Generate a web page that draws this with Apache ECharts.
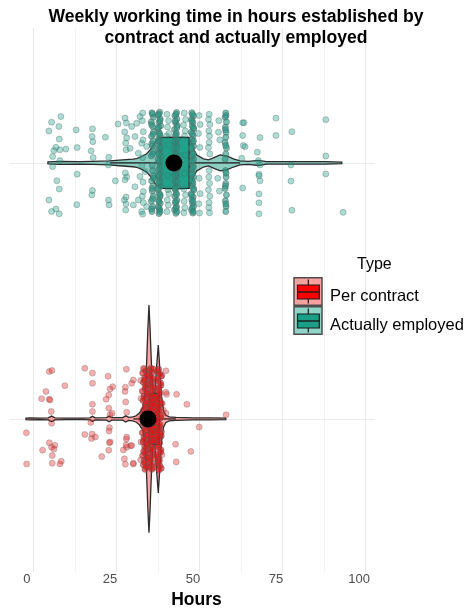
<!DOCTYPE html>
<html>
<head>
<meta charset="utf-8">
<script src="https://cdn.jsdelivr.net/npm/echarts@6/dist/echarts.min.js"></script>
<style>
html, body { margin: 0; padding: 0; background: #fff; }
#chart { width: 464px; height: 610px; }
</style>
</head>
<body>
<div id="chart"></div>
<script>
const groupNames = ['Per contract', 'Actually employed'];
const groupCenters = [1, 2];
const tickLabels = [0, 25, 50, 75, 100];
const groupMeans = [36.6, 44.4];
const panelHours = [-4.9, 104.9];

// [lower whisker, Q1, median, Q3, upper whisker]
const contractBox = [32.2, 36.9, 40, 40, 45];
const employedBox = [25.2, 40.2, 45, 49, 64.3];

// violin outline: [hours, half width]
const contractViolin = [[-0.1,0.003],[1,0.004],[4,0.003],[6.6,0.004],[7.6,0.011],[8.6,0.004],[12,0.003],[17,0.003],[19.1,0.004],[19.9,0.010],[20.7,0.004],[24.1,0.005],[24.9,0.011],[25.7,0.005],[29.0,0.005],[29.9,0.012],[30.8,0.006],[32.0,0.008],[33.0,0.012],[34.0,0.023],[35.0,0.043],[35.6,0.086],[36.0,0.156],[36.3,0.258],[36.55,0.348],[36.9,0.445],[37.25,0.348],[37.5,0.258],[37.9,0.137],[38.3,0.086],[38.7,0.109],[39.1,0.188],[39.7,0.289],[40.2,0.188],[40.7,0.086],[41.3,0.031],[42.0,0.014],[43.0,0.008],[45.0,0.006],[50.0,0.004],[55.0,0.004],[60.0,0.003]];
const employedViolin = [[6.5,0.004],[10,0.006],[16,0.005],[20,0.006],[25,0.008],[28,0.011],[30,0.013],[32.1,0.015],[33.2,0.017],[34.7,0.025],[36.2,0.036],[37.3,0.052],[38.2,0.069],[39.2,0.089],[40.2,0.097],[42,0.1],[45,0.1],[47.5,0.1],[49,0.097],[49.8,0.074],[50.5,0.048],[51.3,0.031],[53.3,0.016],[54.8,0.012],[56.3,0.02],[58.3,0.031],[60.3,0.027],[62.3,0.016],[64.3,0.008],[66.8,0.006],[69.8,0.010],[72.3,0.005],[79.8,0.005],[89.9,0.005],[94.9,0.003]];

// jittered points: [hours, vertical jitter]; *Stack arrays are the columns where many answers pile up
const contractPoints = [
  [6.9,0.185],[7.7,0.189],[17.6,0.198],[19.9,0.179],[24.6,0.167],[30.1,0.194],[11.6,0.130],[19.9,0.139],[26.0,0.126],[25.2,0.117],
  [29.8,0.124],[29.7,0.107],[32.2,0.152],[31.7,0.139],[5.9,0.107],[4.6,0.079],[7.1,0.074],[6.9,0.077],[24.8,0.093],[24.0,0.077],
  [19.9,0.057],[19.9,0.029],[24.8,0.042],[29.9,0.066],[30.2,0.026],[7.5,0.029],[7.6,-0.017],[19.4,-0.014],[25.2,0.016],[25.8,0.022],
  [0.0,-0.054],[17.6,-0.061],[19.8,-0.059],[20.8,-0.071],[19.6,-0.077],[25.0,-0.034],[24.9,-0.047],[30.1,-0.079],[30.2,-0.071],[6.9,-0.093],
  [8.6,-0.103],[7.6,-0.111],[4.9,-0.122],[8.3,-0.118],[25.0,-0.093],[25.2,-0.090],[24.8,-0.122],[29.2,-0.121],[30.2,-0.111],[31.4,-0.105],
  [30.0,-0.102],[7.8,-0.143],[22.7,-0.147],[0.1,-0.176],[7.8,-0.173],[10.5,-0.165],[10.1,-0.176],[29.5,-0.156],[29.8,-0.177],[32.2,-0.176],
  [42.0,0.188],[45.2,0.096],[42.0,0.104],[42.2,0.096],[48.3,0.057],[42.0,0.022],[60.1,0.016],[52.0,-0.032],[44.9,-0.099],[49.5,-0.127],
  [31.7,-0.104],[45.1,-0.168],[32.2,-0.173],[41.2,0.035],
  [34.4,0.15],[34.5,0.08],[34.3,0.0],[34.5,-0.09],[34.4,-0.16],[40.8,0.17],[40.9,0.06],[40.7,-0.05],[40.8,-0.14]
];
const contractStack = [
  [35.3,0.197],[35.0,0.179],[35.6,0.161],[35.2,0.143],[35.7,0.126],[34.9,0.108],[35.4,0.09],[35.1,0.072],[35.8,0.054],[35.3,0.036],
  [35.0,0.018],[35.5,0],[35.2,-0.018],[35.7,-0.036],[34.9,-0.054],[35.4,-0.072],[35.1,-0.09],[35.6,-0.108],[35.3,-0.126],[35.0,-0.143],
  [35.5,-0.161],[35.2,-0.179],[35.7,-0.197],
  [35.9,0.188],[36.2,0.17],[35.6,0.152],[36.0,0.134],[35.8,0.117],[36.3,0.099],[35.5,0.081],[36.1,0.063],[35.9,0.045],[35.7,0.027],
  [36.2,0.009],[35.6,-0.009],[36.0,-0.027],[35.8,-0.045],[36.3,-0.063],[35.5,-0.081],[36.1,-0.099],[35.9,-0.117],[35.7,-0.134],[36.2,-0.152],
  [35.6,-0.17],[36.0,-0.188],
  [36.9,0.19],[36.6,0.172],[37.2,0.154],[36.8,0.136],[37.3,0.118],[36.5,0.1],[37.0,0.082],[36.7,0.064],[37.1,0.046],[36.9,0.028],
  [36.6,0.01],[37.2,-0.008],[36.8,-0.026],[37.3,-0.044],[36.5,-0.062],[37.0,-0.08],[36.7,-0.098],[37.1,-0.116],[36.9,-0.134],[36.6,-0.152],
  [37.2,-0.17],[36.8,-0.188],
  [37.5,0.198],[37.8,0.181],[37.4,0.163],[37.7,0.145],[37.6,0.127],[37.9,0.109],[37.3,0.091],[37.6,0.073],[37.8,0.055],[37.4,0.037],
  [37.7,0.019],[37.5,0.001],[37.9,-0.017],[37.3,-0.035],[37.6,-0.053],[37.8,-0.071],[37.4,-0.089],[37.7,-0.107],[37.5,-0.125],[37.9,-0.143],
  [37.3,-0.161],[37.6,-0.179],[37.8,-0.197],
  [38.2,0.195],[37.9,0.16],[38.4,0.125],[38.0,0.09],[38.3,0.055],[38.1,0.02],[37.9,-0.015],[38.4,-0.05],[38.2,-0.085],[38.0,-0.12],
  [38.3,-0.155],[38.1,-0.19],
  [39.3,0.185],[40.6,0.167],[39.1,0.149],[40.5,0.131],[39.4,0.113],[40.0,0.095],[39.2,0.077],[40.6,0.059],[39.5,0.041],[39.3,0.023],
  [40.5,0.005],[39.0,-0.013],[40.1,-0.031],[39.4,-0.049],[40.6,-0.067],[39.2,-0.085],[39.5,-0.103],[40.5,-0.121],[39.1,-0.139],[40.0,-0.157],
  [39.3,-0.175],[40.6,-0.193],
  [39.8,0.194],[40.2,0.176],[39.6,0.158],[40.4,0.14],[39.9,0.122],[40.1,0.104],[39.7,0.086],[40.3,0.068],[39.8,0.05],[40.0,0.032],
  [40.4,0.014],[39.6,-0.004],[40.2,-0.022],[39.9,-0.04],[40.3,-0.058],[39.7,-0.076],[40.1,-0.094],[39.8,-0.112],[40.4,-0.13],[39.6,-0.148],
  [40.0,-0.166],[40.2,-0.184],[39.9,-0.2]
];
const employedPoints = [
  [7.6,0.159],[10.4,0.181],[6.8,0.125],[9.8,0.142],[15.0,0.129],[19.9,0.133],[23.8,0.100],[27.6,0.152],[9.9,0.093],[19.8,0.103],
  [20.0,0.083],[8.9,0.061],[10.1,0.051],[8.3,0.048],[11.9,0.054],[15.3,0.060],[19.5,0.047],[7.9,0.025],[10.1,0.009],[7.9,-0.014],
  [20.1,0.021],[24.8,0.022],[24.7,-0.008],[15.3,-0.044],[9.2,-0.070],[9.9,-0.102],[26.8,-0.070],[19.9,-0.108],[19.7,-0.125],[6.8,-0.145],
  [8.9,-0.180],[7.6,-0.190],[9.9,-0.199],[15.2,-0.163],[24.7,-0.145],[24.9,-0.164],[29.5,-0.145],[30.0,-0.160],
  [29.7,0.175],[30.1,0.156],[29.6,0.121],[30.2,0.098],[29.9,0.078],[30.0,0.051],[29.8,-0.039],[30.2,-0.055],[29.7,-0.066],[30.0,-0.133],[29.9,-0.184],
  [33.2,0.155],[34.2,0.181],[35.2,0.122],[32.7,0.103],[34.7,0.077],[36.2,0.064],[33.7,0.038],[35.7,-0.034],[34.2,-0.053],[32.7,-0.093],
  [35.2,-0.112],[33.7,-0.145],[36.2,-0.171],[34.7,-0.190],[32.2,-0.164],[31.2,0.057],[31.7,0.142],
  [35.0,0.195],[34.9,0.165],[35.1,0.09],[35.0,0.02],[34.8,-0.01],[35.1,-0.075],[34.9,-0.13],[35.0,-0.2],[35.2,-0.155],
  [42.3,0.19],[42.8,0.165],[42.5,0.14],[42.9,0.115],[42.2,0.105],[42.6,-0.105],[42.9,-0.12],[42.4,-0.145],[42.7,-0.165],[42.3,-0.19],[42.8,0.07],[42.5,-0.05],
  [47.5,0.195],[47.9,0.17],[47.3,0.148],[47.8,0.125],[47.6,0.105],[47.4,-0.102],[47.9,-0.125],[47.5,-0.15],[47.7,-0.175],[47.4,-0.195],[47.8,0.03],[47.6,-0.04],
  [52.0,0.185],[52.3,0.15],[51.8,0.115],[52.2,0.06],[52.0,-0.06],[52.3,-0.12],[51.9,-0.16],[52.1,-0.196],
  [55.0,0.19],[54.8,0.17],[55.2,0.15],[54.9,0.125],[55.1,0.105],[55.0,0.08],[54.8,0.06],[55.2,0.035],[55.0,-0.03],[54.9,-0.055],
  [55.1,-0.08],[54.8,-0.105],[55.2,-0.13],[55.0,-0.155],[54.9,-0.175],[55.1,-0.195],
  [57.8,0.12],[58.2,0.09],[57.6,-0.06],[58.1,-0.11],[57.9,0.165],
  [65.1,0.157],[65.5,0.157],[75.1,0.175],[90.1,0.169],[65.1,0.107],[70.3,0.099],[75.1,0.107],[79.9,0.122],[65.3,0.068],[65.8,0.063],
  [69.5,0.042],[90.1,0.027],[64.8,0.018],[69.8,0.009],[70.3,-0.008],[79.6,-0.008],[70.0,-0.044],[70.0,-0.050],[70.3,-0.070],[90.1,-0.043],
  [79.6,-0.071],[65.1,-0.098],[70.0,-0.121],[70.0,-0.156],[70.0,-0.199],[79.9,-0.185],[95.3,-0.193]
];
const employedStack = [
  [37.8,0.196],[38.2,0.178],[37.6,0.16],[38.0,0.142],[38.3,0.122],[37.7,0.104],[38.1,0.085],[37.9,0.066],[38.2,0.046],[37.6,0.027],
  [38.0,-0.03],[38.3,-0.05],[37.7,-0.07],[38.1,-0.09],[37.9,-0.11],[38.2,-0.13],[37.6,-0.15],[38.0,-0.17],[37.8,-0.19],
  [38.0,0.19],[37.7,0.15],[38.1,0.112],[37.8,0.075],[38.0,0.035],[37.9,-0.01],[38.2,-0.06],[37.8,-0.1],[38.0,-0.14],[37.7,-0.18],
  [40.1,0.198],[39.7,0.186],[40.3,0.172],[39.9,0.159],[40.4,0.145],[39.6,0.133],[40.0,0.118],[40.2,0.106],[39.8,0.093],[40.3,0.079],
  [39.7,0.067],[40.1,0.052],[39.9,0.04],[40.4,0.026],[39.6,0.014],[40.0,0.001],[40.2,-0.013],[39.8,-0.027],[40.3,-0.039],[39.7,-0.053],
  [40.1,-0.066],[39.9,-0.08],[40.4,-0.092],[39.6,-0.105],[40.0,-0.119],[40.2,-0.132],[39.8,-0.146],[40.3,-0.158],[39.7,-0.172],[40.1,-0.184],[39.9,-0.198],
  [39.9,0.191],[40.2,0.165],[39.8,0.139],[40.1,0.112],[39.7,0.086],[40.3,0.06],[39.9,0.033],[40.0,0.007],[40.2,-0.02],[39.8,-0.046],
  [40.1,-0.073],[39.7,-0.099],[40.3,-0.125],[39.9,-0.152],[40.0,-0.178],[40.2,-0.191],
  [45.2,0.197],[44.7,0.184],[45.3,0.171],[44.9,0.157],[45.4,0.146],[44.6,0.131],[45.1,0.118],[44.8,0.105],[45.3,0.093],[44.9,0.078],
  [45.2,0.067],[44.6,0.052],[45.0,0.041],[45.4,0.027],[44.8,0.012],[45.1,-0.002],[44.7,-0.014],[45.3,-0.027],[44.9,-0.041],[45.2,-0.052],
  [44.6,-0.067],[45.0,-0.078],[45.4,-0.093],[44.8,-0.104],[45.1,-0.118],[44.7,-0.131],[45.3,-0.146],[44.9,-0.157],[45.2,-0.171],[44.6,-0.183],[45.0,-0.197],
  [45.0,0.19],[44.8,0.164],[45.3,0.138],[45.1,0.111],[44.7,0.085],[45.2,0.059],[44.9,0.032],[45.0,0.006],[45.3,-0.021],[44.8,-0.047],
  [45.1,-0.074],[44.7,-0.098],[45.2,-0.124],[44.9,-0.151],[45.0,-0.177],[45.3,-0.19],
  [49.8,0.196],[50.3,0.183],[49.7,0.17],[50.1,0.158],[49.9,0.144],[50.4,0.133],[49.6,0.12],[50.2,0.106],[49.8,0.091],[50.0,0.08],
  [50.3,0.065],[49.7,0.054],[50.1,0.039],[49.9,0.026],[50.4,0.014],[49.6,0.001],[50.2,-0.012],[49.8,-0.028],[50.0,-0.039],[50.3,-0.054],
  [49.7,-0.065],[50.1,-0.08],[49.9,-0.091],[50.4,-0.106],[49.6,-0.12],[50.2,-0.133],[49.8,-0.144],[50.0,-0.158],[50.3,-0.17],[49.7,-0.184],[50.1,-0.196],
  [50.0,0.189],[49.8,0.163],[50.2,0.137],[49.9,0.113],[50.3,0.086],[49.7,0.061],[50.1,0.034],[49.9,0.008],[50.2,-0.019],[49.8,-0.045],
  [50.0,-0.072],[50.3,-0.1],[49.7,-0.126],[50.1,-0.15],[49.9,-0.176],[50.2,-0.19],
  [60.0,0.195],[59.8,0.178],[60.2,0.16],[59.9,0.14],[60.1,0.12],[60.0,0.1],[59.8,0.08],[60.2,0.058],[60.0,0.035],[59.9,-0.03],
  [60.1,-0.055],[60.0,-0.08],[59.8,-0.1],[60.2,-0.125],[59.9,-0.148],[60.1,-0.17],[60.0,-0.19],[59.8,0.015],
  [60.1,0.185],[59.9,0.13],[60.0,0.068],[60.1,-0.04],[59.9,-0.09],[60.0,-0.16]
];

const violinFill = ['rgba(255,40,40,0.42)', 'rgba(27,158,135,0.5)'];
const boxFill = ['rgba(255,0,0,0.9)', 'rgba(27,158,135,0.95)'];
const pointFill = ['rgba(230,25,25,0.35)', 'rgba(27,158,135,0.36)'];
const pointBorder = ['rgba(120,90,90,0.42)', 'rgba(70,105,98,0.45)'];
const stackFill = ['rgba(228,20,20,0.62)', 'rgba(35,150,130,0.6)'];
const stackBorder = ['rgba(110,85,85,0.65)', 'rgba(80,110,104,0.7)'];
const keyBg = ['#f9a0a0', '#8fd4c7'];
const keyFill = ['#ff0000', '#1b9e87'];
const fontFamily = '"Liberation Sans", Arial, sans-serif';

const violins = [contractViolin, employedViolin];
const boxes = [contractBox, employedBox];
const points = [contractPoints, employedPoints];
const stacks = [contractStack, employedStack];

function renderViolin(params, api) {
  const i = params.dataIndex;
  const c = groupCenters[i];
  const prof = violins[i];
  const upper = prof.map(p => api.coord([p[0], c + p[1]]));
  const lower = prof.slice().reverse().map(p => api.coord([p[0], c - p[1]]));
  return {
    type: 'polygon',
    shape: { points: upper.concat(lower) },
    style: { fill: violinFill[i], stroke: '#2b2b2b', lineWidth: 1.3 }
  };
}

function renderBox(params, api) {
  const i = params.dataIndex;
  const c = groupCenters[i];
  const [lo, q1, med, q3, hi] = boxes[i];
  const half = 0.1;
  const pLo = api.coord([lo, c]), pQ1 = api.coord([q1, c]);
  const pQ3 = api.coord([q3, c]), pHi = api.coord([hi, c]);
  const top = api.coord([q1, c + half])[1];
  const bottom = api.coord([q1, c - half])[1];
  const xm = api.coord([med, c])[0];
  const line = { stroke: '#1a1a1a', lineWidth: 1.2 };
  return {
    type: 'group',
    children: [
      { type: 'line', shape: { x1: pLo[0], y1: pLo[1], x2: pQ1[0], y2: pQ1[1] }, style: line },
      { type: 'line', shape: { x1: pQ3[0], y1: pQ3[1], x2: pHi[0], y2: pHi[1] }, style: line },
      { type: 'rect', shape: { x: pQ1[0], y: top, width: pQ3[0] - pQ1[0], height: bottom - top },
        style: { fill: boxFill[i], stroke: '#1a1a1a', lineWidth: 1.2 } },
      { type: 'line', shape: { x1: xm, y1: top, x2: xm, y2: bottom }, style: { stroke: '#1a1a1a', lineWidth: 1.6 } }
    ]
  };
}

function pointSeries(pts, i, fill, border) {
  return {
    type: 'scatter', xAxisIndex: 0, z: 4, silent: true,
    symbolSize: 6,
    data: pts.map(p => [p[0], groupCenters[i] + p[1]]),
    itemStyle: { color: fill[i], borderColor: border[i], borderWidth: 0.8, opacity: 1 }
  };
}

// legend drawn by hand (violin + box glyph)
const legendGraphics = [{
  type: 'text', left: 357, top: 257, z: 20,
  style: { text: 'Type', font: '16px ' + fontFamily, fill: '#000' }
}];
groupNames.forEach((name, i) => {
  const y0 = 277.7 + i * 29;
  legendGraphics.push(
    { type: 'rect', z: 20, shape: { x: 294, y: y0, width: 28, height: 27.5 },
      style: { fill: keyBg[i], stroke: '#4d4d4d', lineWidth: 1.5 } },
    { type: 'line', z: 21, shape: { x1: 308.3, y1: y0 + 1.8, x2: 308.3, y2: y0 + 7.3 }, style: { stroke: '#1a1a1a', lineWidth: 1.2 } },
    { type: 'line', z: 21, shape: { x1: 308.3, y1: y0 + 21.3, x2: 308.3, y2: y0 + 25.7 }, style: { stroke: '#1a1a1a', lineWidth: 1.2 } },
    { type: 'rect', z: 21, shape: { x: 297.5, y: y0 + 7.3, width: 21.8, height: 14 },
      style: { fill: keyFill[i], stroke: '#1a1a1a', lineWidth: 1.2 } },
    { type: 'line', z: 22, shape: { x1: 297.5, y1: y0 + 14.3, x2: 319.3, y2: y0 + 14.3 }, style: { stroke: '#1a1a1a', lineWidth: 1.4 } },
    { type: 'text', z: 20, x: 330, y: y0 + 18.8,
      style: { text: name, font: '16.5px ' + fontFamily, fill: '#000', textVerticalAlign: 'middle', verticalAlign: 'middle' } }
  );
});

const chart = echarts.init(document.getElementById('chart'), null, { renderer: 'canvas' });
chart.setOption({
  animation: false,
  backgroundColor: '#fff',
  textStyle: { fontFamily: fontFamily },
  graphic: [{
    type: 'text', x: 236, y: 7, z: 20,
    style: {
      text: 'Weekly working time in hours established by\ncontract and actually employed',
      font: 'bold 17.6px ' + fontFamily, fill: '#000', align: 'center', textAlign: 'center', lineHeight: 20.5
    }
  }].concat(legendGraphics),
  grid: { left: -8.25, right: 56.75, top: 28, bottom: 38, containLabel: false, outerBoundsMode: 'none' },
  xAxis: [{
    type: 'value', position: 'top', show: false, min: -10.4, max: 114.6
  }, {
    type: 'value', position: 'bottom', min: -12.5, max: 112.5, interval: 12.5,
    axisLine: { show: false }, axisTick: { show: false },
    splitLine: { show: true, showMaxLine: false, lineStyle: { color: ['#f2f2f2', '#e9e9e9'], width: 1 } },
    axisLabel: {
      color: '#4d4d4d', fontSize: 13, margin: 1, padding: [0, 13, 0, 0],
      formatter: v => tickLabels.some(t => Math.abs(t - v) < 1e-6) ? String(Math.round(v)) : ''
    },
    name: 'Hours', nameLocation: 'middle', nameGap: 18,
    nameTextStyle: { fontWeight: 'bold', fontSize: 17.5, color: '#000', padding: [0, 6, 0, 0] }
  }],
  yAxis: { type: 'value', min: 0.402, max: 2.527, show: false },
  series: [{
    type: 'custom', xAxisIndex: 0, z: 2, silent: true,
    data: groupMeans.map((m, i) => [m, groupCenters[i]]),
    renderItem: renderViolin
  }, {
    type: 'custom', xAxisIndex: 0, z: 3, silent: true,
    data: groupMeans.map((m, i) => [m, groupCenters[i]]),
    renderItem: renderBox
  }]
  .concat(points.map((pts, i) => pointSeries(pts, i, pointFill, pointBorder)))
  .concat(stacks.map((pts, i) => pointSeries(pts, i, stackFill, stackBorder)))
  .concat([{
    type: 'scatter', xAxisIndex: 0, z: 5, silent: true,
    symbolSize: 17,
    data: groupMeans.map((m, i) => [m, groupCenters[i]]),
    itemStyle: { color: '#000', opacity: 1 },
    markLine: {
      z: 1, silent: true, symbol: 'none', label: { show: false },
      lineStyle: { color: '#ebebeb', width: 1, type: 'solid' },
      data: groupCenters.map(c => [{ coord: [panelHours[0], c] }, { coord: [panelHours[1], c] }])
    }
  }])
});
</script>
</body>
</html>
